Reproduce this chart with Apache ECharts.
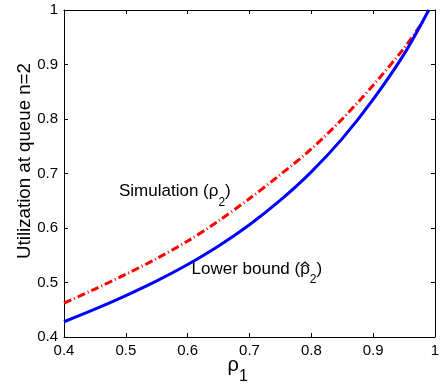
<!DOCTYPE html>
<html>
<head>
<meta charset="utf-8">
<script src="https://cdn.jsdelivr.net/npm/echarts@6/dist/echarts.min.js"></script>
<style>
  html, body { margin: 0; padding: 0; background: #fff; }
  #chart { width: 444px; height: 388px; }
</style>
</head>
<body>
<div id="chart"></div>
<script>
// lower bound curve (rho_1 -> hat rho_2)
const boundX = [0.40, 0.45, 0.50, 0.55, 0.60, 0.65, 0.70, 0.75, 0.80, 0.85, 0.90, 0.95, 0.99];
const boundY = [0.428, 0.451, 0.476, 0.503, 0.533, 0.567, 0.606, 0.651, 0.703, 0.764, 0.836, 0.919, 1.0];

// simulation curve (rho_1 -> rho_2)
const simX = [0.40, 0.45, 0.50, 0.55, 0.60, 0.65, 0.70, 0.75, 0.80, 0.85, 0.90, 0.95, 0.98];
const simY = [0.462, 0.488, 0.515, 0.544, 0.576, 0.613, 0.654, 0.698, 0.745, 0.800, 0.862, 0.930, 0.978];

const font = 'Liberation Sans, Arial, sans-serif';

const chart = echarts.init(document.getElementById('chart'));

const axisCommon = {
  type: 'value',
  min: 0.4,
  max: 1,
  interval: 0.1,
  axisLine: { show: true, onZero: false, lineStyle: { color: '#000', width: 1 } },
  axisTick: { show: true, inside: true, length: 4, lineStyle: { color: '#000' } },
  splitLine: { show: false },
};

// rich styles: main text plus a lowered subscript
function subRich(size, subSize, pad) {
  return {
    m: { fontSize: size, fontFamily: font, color: '#000', lineHeight: size, verticalAlign: 'top' },
    s: { fontSize: subSize, fontFamily: font, color: '#000', lineHeight: subSize, verticalAlign: 'top', padding: [pad, 0, 0, 0] },
  };
}

// where the rho of "Lower bound (rho" sits, for the hat
const ctx = document.createElement('canvas').getContext('2d');
ctx.font = '17px Liberation Sans';
const lbX = 191.5, lbY = 260.5;
const rhoLeft = lbX + ctx.measureText('Lower bound (').width;
const rhoW = ctx.measureText('ρ').width;

chart.setOption({
  animation: false,
  backgroundColor: '#fff',
  grid: { left: 64, right: 9, top: 10, bottom: 51 },
  xAxis: [
    {
      ...axisCommon,
      position: 'bottom',
      axisLabel: { color: '#000', fontSize: 15, fontFamily: font, margin: 6 },
    },
    { ...axisCommon, position: 'top', axisLabel: { show: false } },
  ],
  yAxis: [
    {
      ...axisCommon,
      position: 'left',
      axisLabel: { color: '#000', fontSize: 15, fontFamily: font, margin: 6 },
    },
    { ...axisCommon, position: 'right', axisLabel: { show: false } },
  ],
  series: [
    {
      name: 'Lower bound',
      type: 'line',
      smooth: 0.3,
      showSymbol: false,
      data: boundX.map((x, i) => [x, boundY[i]]),
      lineStyle: { color: '#0000ff', width: 3 },
      z: 3,
    },
    {
      name: 'Simulation',
      type: 'line',
      smooth: 0.3,
      showSymbol: false,
      data: simX.map((x, i) => [x, simY[i]]),
      lineStyle: { color: '#ff0000', width: 3, type: [8, 3, 1, 3] },
      z: 2,
    },
  ],
  graphic: [
    {
      type: 'text',
      x: 25,
      y: 161,
      rotation: Math.PI / 2,
      style: {
        text: 'Utilization at queue n=2',
        font: '18.7px Liberation Sans, Arial, sans-serif',
        fill: '#000',
        align: 'center',
        verticalAlign: 'middle',
      },
    },
    {
      type: 'text',
      x: 227.5,
      y: 355.5,
      style: {
        text: '{m|ρ}{s|1}',
        rich: subRich(20, 16, 13.4),
      },
    },
    {
      type: 'text',
      x: 119,
      y: 182.8,
      style: {
        text: '{m|Simulation (ρ}{s|2}{m|)}',
        rich: subRich(17, 12, 13.5),
      },
    },
    {
      type: 'text',
      x: lbX,
      y: lbY,
      style: {
        text: '{m|Lower bound (ρ}{s|2}{m|)}',
        rich: subRich(17, 12, 13.5),
      },
    },
    {
      type: 'polyline',
      shape: {
        points: [
          [rhoLeft + 0.5, lbY + 5.5],
          [rhoLeft + rhoW / 2, lbY + 1.5],
          [rhoLeft + rhoW - 0.5, lbY + 5.5],
        ],
      },
      style: { stroke: '#000', lineWidth: 1.1, fill: null },
    },
  ],
});
</script>
</body>
</html>
